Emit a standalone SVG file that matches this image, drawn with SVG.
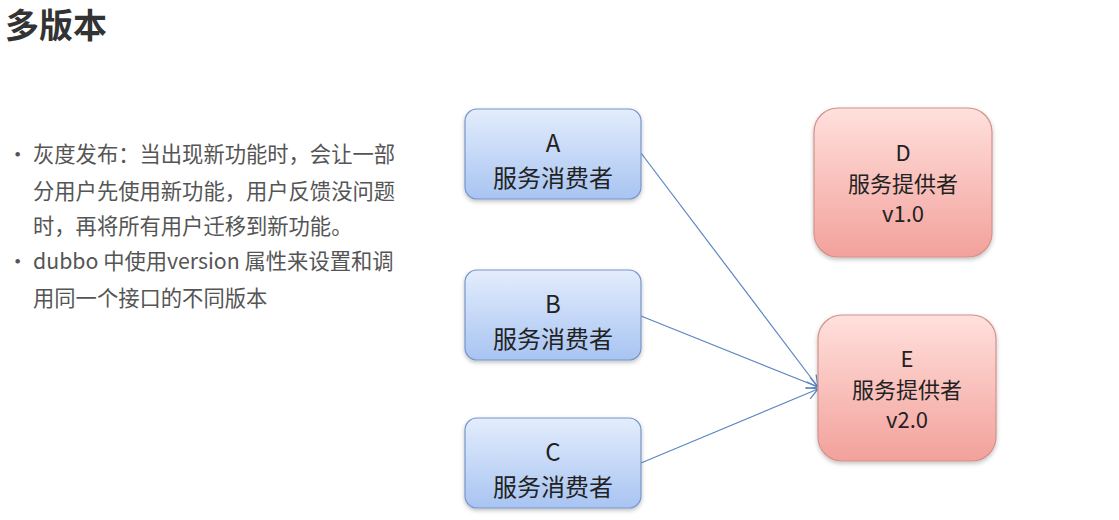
<svg xmlns="http://www.w3.org/2000/svg" width="1119" height="520" viewBox="0 0 1119 520">
<defs>
<linearGradient id="gb" x1="0" y1="0" x2="0" y2="1"><stop offset="0" stop-color="#e3edfc"/><stop offset="1" stop-color="#a8c4f2"/></linearGradient>
<linearGradient id="gr" x1="0" y1="0" x2="0" y2="1"><stop offset="0" stop-color="#ffe0dd"/><stop offset="1" stop-color="#f3a19b"/></linearGradient>
<filter id="sh" x="-10%" y="-10%" width="120%" height="130%"><feDropShadow dx="0" dy="2" stdDeviation="2" flood-color="#000" flood-opacity="0.25"/></filter>
<marker id="ar" markerWidth="14" markerHeight="14" refX="12" refY="7" orient="auto" markerUnits="userSpaceOnUse"><path d="M1,1 L12,7 L1,13" fill="none" stroke="#5b85c4" stroke-width="1.2"/></marker>
</defs>
<style>
.t{font-family:"Noto Sans CJK SC","Liberation Sans",sans-serif;}
.body{font-size:21.3px;fill:#555;}
.n{font-size:24px;fill:#222;text-anchor:middle;}
.p{font-size:22px;fill:#222;text-anchor:middle;}
.blue{fill:url(#gb);stroke:#7895c9;stroke-width:1.2;filter:url(#sh);}
.red{fill:url(#gr);stroke:#d3918c;stroke-width:1.2;filter:url(#sh);}
.c{stroke:#5b85c4;stroke-width:1.2;fill:none;marker-end:url(#ar);}
</style>
<rect width="1119" height="520" fill="#fff"/>
<text class="t" x="5" y="38" font-size="34" font-weight="bold" fill="#333">多版本</text>
<g id="text" class="t body">
<text x="7" y="162">•</text>
<text x="33" y="162">灰度发布：当出现新功能时，会让一部</text>
<text x="33" y="199">分用户先使用新功能，用户反馈没问题</text>
<text x="33" y="234">时，再将所有用户迁移到新功能。</text>
<text x="7" y="269">•</text>
<text x="33" y="269">dubbo 中使用version 属性来设置和调</text>
<text x="33" y="306">用同一个接口的不同版本</text>
</g>
<g id="connectors">
<line class="c" x1="641" y1="153" x2="818" y2="387"/>
<line class="c" x1="641" y1="316" x2="818" y2="387"/>
<line class="c" x1="641" y1="463" x2="818" y2="389"/>
</g>
<g id="A"><rect class="blue" x="465" y="109" width="176" height="90" rx="12"/>
<text class="t n" x="553" y="152" font-size="27">A</text><text class="t n" x="553" y="187">服务消费者</text></g>
<g id="B"><rect class="blue" x="465" y="270" width="176" height="90" rx="12"/>
<text class="t n" x="553" y="313" font-size="27">B</text><text class="t n" x="553" y="348">服务消费者</text></g>
<g id="C"><rect class="blue" x="465" y="418" width="176" height="90" rx="12"/>
<text class="t n" x="553" y="461" font-size="27">C</text><text class="t n" x="553" y="496">服务消费者</text></g>
<g id="D"><rect class="red" x="814" y="108" width="178" height="149" rx="24"/>
<text class="t p" x="903" y="161">D</text><text class="t p" x="903" y="192">服务提供者</text><text class="t p" x="903" y="222">v1.0</text></g>
<g id="E"><rect class="red" x="818" y="315" width="178" height="146" rx="24"/>
<text class="t p" x="907" y="367">E</text><text class="t p" x="907" y="398">服务提供者</text><text class="t p" x="907" y="428">v2.0</text></g>
</svg>
